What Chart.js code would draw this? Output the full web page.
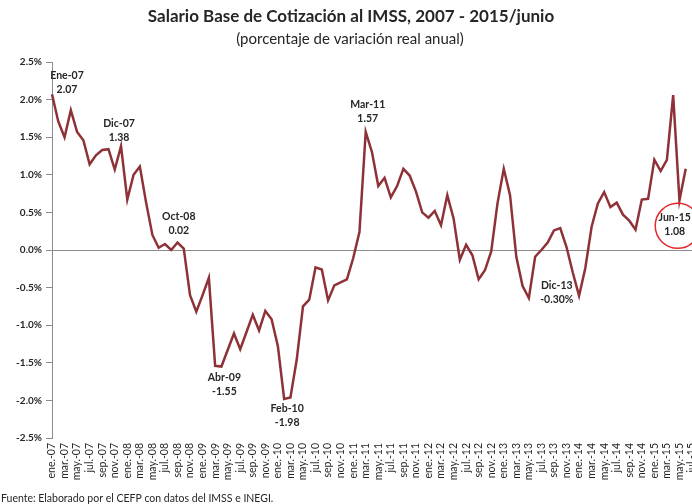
<!DOCTYPE html>
<html lang="es">
<head>
<meta charset="utf-8">
<title>Salario Base de Cotización al IMSS</title>
<script src="https://cdn.jsdelivr.net/npm/chart.js@4.4.1/dist/chart.umd.min.js"></script>
<style>
  html, body { margin: 0; padding: 0; background: #fff; overflow: hidden; }
  canvas { display: block; }
</style>
</head>
<body>
<canvas id="grafico" width="692" height="504"></canvas>
<script>
// Meses (eje x): ene.-07 ... jul.-15
const meses = ['ene.', 'feb.', 'mar.', 'abr.', 'may.', 'jun.', 'jul.', 'ago.', 'sep.', 'oct.', 'nov.', 'dic.'];
const anios = ['07', '08', '09', '10', '11', '12', '13', '14', '15'];
const etiquetas = [];
anios.forEach(function (a) {
    meses.forEach(function (m) {
        etiquetas.push(m + '-' + a);
    });
});
etiquetas.length = 103; // hasta jul.-15

// Variación real anual (%)
const valores = [
    2.07, 1.71, 1.50, 1.86, 1.57, 1.46, 1.14, 1.26, 1.33, 1.34, 1.07, 1.38,
    0.67, 1.00, 1.11, 0.63, 0.20, 0.03, 0.08, 0.00, 0.10, 0.02, -0.60, -0.82,
    -0.60, -0.37, -1.54, -1.55, -1.33, -1.11, -1.32, -1.09, -0.86, -1.07, -0.81, -0.92,
    -1.28, -1.98, -1.96, -1.46, -0.75, -0.66, -0.23, -0.26, -0.67, -0.47, -0.43, -0.39,
    -0.11, 0.24, 1.57, 1.30, 0.85, 0.96, 0.70, 0.85, 1.08, 0.99, 0.78, 0.50,
    0.43, 0.52, 0.33, 0.73, 0.42, -0.13, 0.07, -0.07, -0.39, -0.27, -0.02, 0.62,
    1.08, 0.73, -0.09, -0.48, -0.64, -0.09, 0.00, 0.10, 0.26, 0.29, 0.04, -0.30,
    -0.61, -0.24, 0.31, 0.62, 0.77, 0.57, 0.63, 0.47, 0.39, 0.27, 0.67, 0.68,
    1.20, 1.05, 1.20, 2.06, 0.66, 1.08
];

// Ticks del eje y
const ticksY = [-2.5, -2.0, -1.5, -1.0, -0.5, 0.0, 0.5, 1.0, 1.5, 2.0, 2.5];

// Notas sobre la serie
const notasIdx = [0, 11, 21, 27, 37, 50, 83, 101];
const notasTxt = [
    ['Ene-07', '2.07'], ['Dic-07', '1.38'], ['Oct-08', '0.02'], ['Abr-09', '-1.55'],
    ['Feb-10', '-1.98'], ['Mar-11', '1.57'], ['Dic-13', '-0.30%'], ['Jun-15', '1.08']
];

const titulo = 'Salario Base de Cotización al IMSS, 2007 - 2015/junio';
const subtitulo = '(porcentaje de variación real anual)';
const fuente = 'Fuente: Elaborado por el CEFP con datos del IMSS e INEGI.';

// desplazamiento de cada nota respecto a su punto (px)
const notasPos = [
    [15, -12], [-2, -15.5], [-5, -24.5], [3, 18.5],
    [3, 17], [2, -20], [-16, 20], [-11, 56]
];

const textos = {
    id: 'textos',
    afterDraw(chart) {
        const ctx = chart.ctx;
        const x = chart.scales.x, y = chart.scales.y;
        ctx.save();
        ctx.textAlign = 'center';
        ctx.textBaseline = 'middle';
        ctx.fillStyle = '#262626';
        ctx.font = 'bold 17px Lato';
        ctx.fillText(titulo, 351, 17);
        ctx.font = '15px Lato';
        ctx.fillText(subtitulo, 350, 39);

        ctx.font = 'bold 10.5px Lato';
        notasIdx.forEach(function (i, k) {
            const px = x.getPixelForValue(i) + notasPos[k][0];
            const py = y.getPixelForValue(valores[i]) + notasPos[k][1];
            ctx.fillText(notasTxt[k][0], px, py - 7);
            ctx.fillText(notasTxt[k][1], px, py + 7);
            if (k === notasIdx.length - 1) {
                ctx.beginPath();
                ctx.strokeStyle = '#E8262B';
                ctx.lineWidth = 1.5;
                ctx.arc(px + 3, py + 1, 22.5, 0, Math.PI * 2);
                ctx.stroke();
            }
        });

        ctx.textAlign = 'left';
        ctx.font = '10.5px Lato';
        ctx.fillStyle = '#262626';
        ctx.fillText(fuente, 1, 499);
        ctx.restore();
    }
};

const ctx = document.getElementById('grafico').getContext('2d');
new Chart(ctx, {
    type: 'line',
    data: {
        labels: etiquetas,
        datasets: [{
            data: valores,
            borderColor: '#8E3238',
            borderWidth: 2.5,
            pointRadius: 0,
            tension: 0,
            fill: false
        }]
    },
    options: {
        responsive: false,
        animation: false,
        devicePixelRatio: 1,
        layout: { padding: { top: 62, right: 0, bottom: 16, left: 0 } },
        plugins: { legend: { display: false }, tooltip: { enabled: false } },
        scales: {
            x: {
                offset: false,
                grid: { display: false, drawTicks: false },
                border: { display: false },
                ticks: {
                    autoSkip: false,
                    minRotation: 90,
                    maxRotation: 90,
                    padding: 5,
                    color: '#262626',
                    font: { family: 'Lato', size: 10.5 },
                    callback: function (v, i) { return i % 2 === 0 ? etiquetas[i] : ''; }
                },
                afterFit: function (s) { s.paddingLeft = 0; s.paddingRight = 0; s.height = 50; }
            },
            y: {
                min: ticksY[0],
                max: ticksY[ticksY.length - 1],
                afterBuildTicks: function (s) { s.ticks = ticksY.map(function (v) { return { value: v }; }); },
                grid: {
                    color: function (c) { return c.tick && c.tick.value === 0 ? '#8C8C8C' : 'rgba(0,0,0,0)'; },
                    tickColor: '#8C8C8C',
                    tickLength: 6
                },
                border: { color: '#8C8C8C', width: 1 },
                ticks: {
                    padding: 4,
                    color: '#262626',
                    font: { family: 'Lato', size: 10, weight: 'bold' },
                    callback: function (v) { return v.toFixed(1) + '%'; }
                },
                afterFit: function (s) { s.width = 52; }
            }
        }
    },
    plugins: [textos]
});
</script>
</body>
</html>
